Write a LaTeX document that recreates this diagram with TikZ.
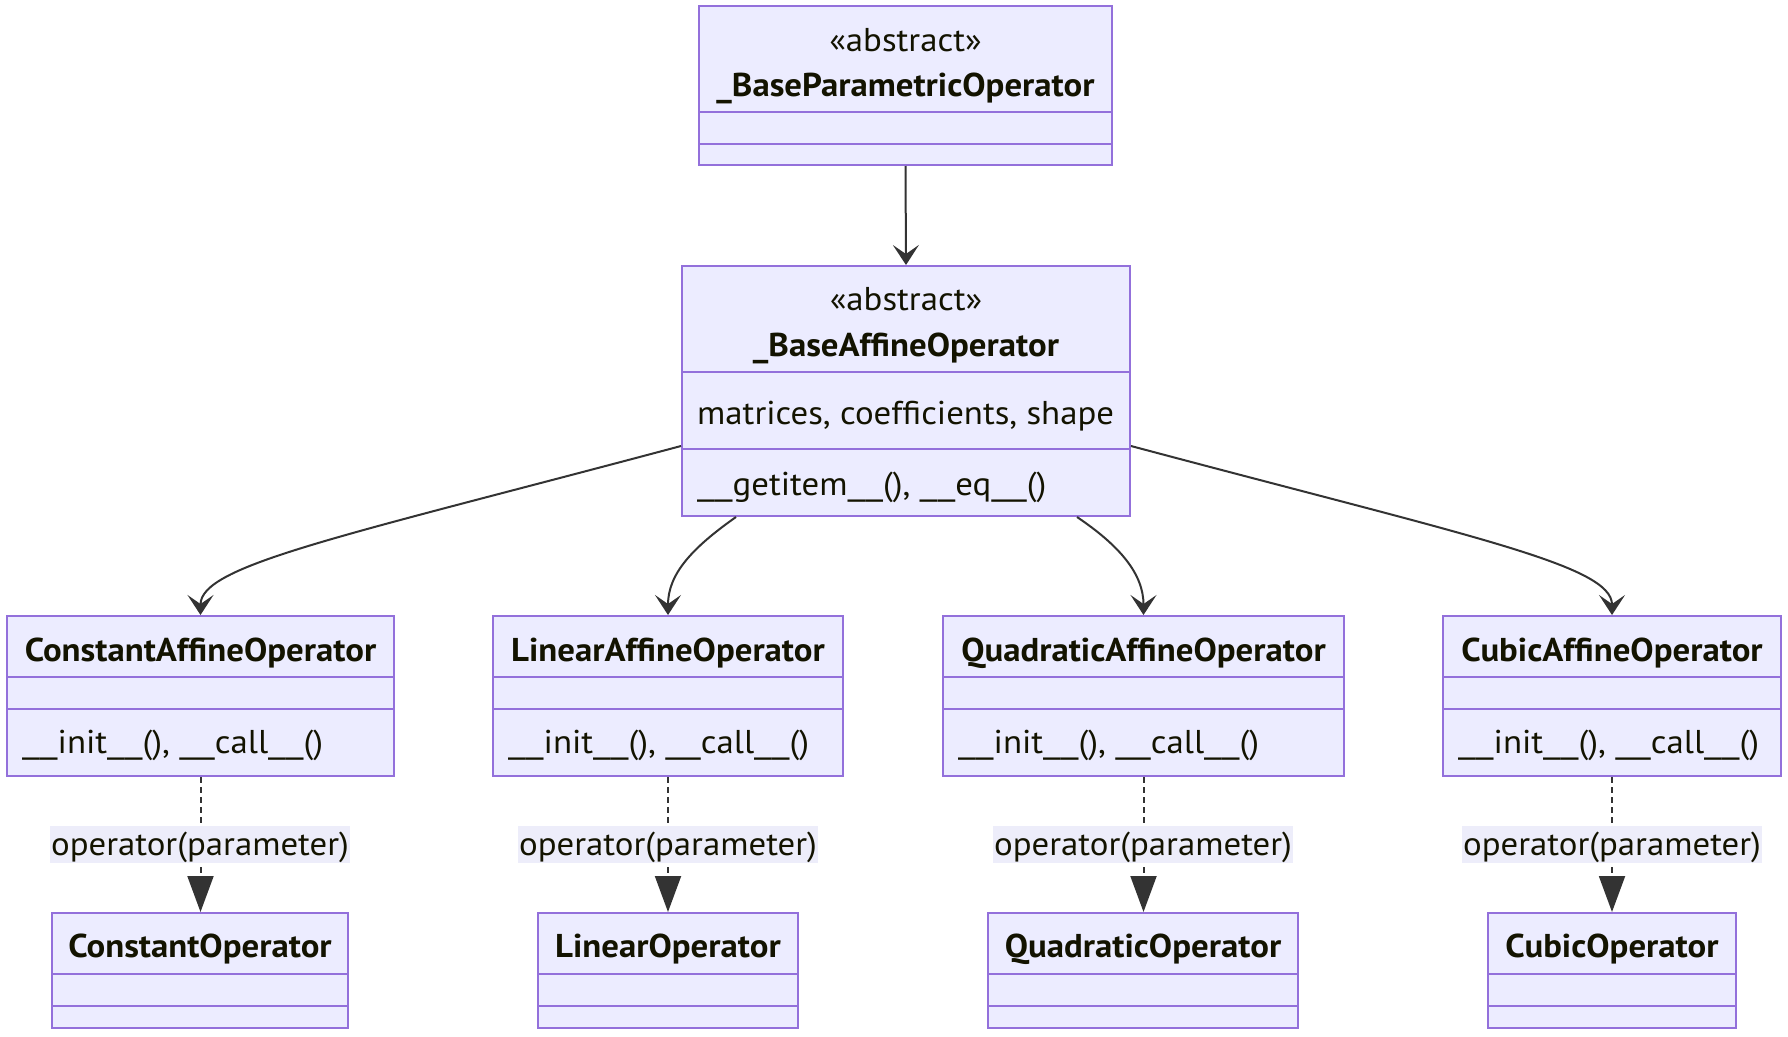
\documentclass[tikz,border=0pt]{standalone}
\usepackage{fontspec}
\setmainfont{PT Sans}[FakeStretch=1.055]
\usetikzlibrary{arrows.meta}
\definecolor{boxfill}{HTML}{ECECFF}
\definecolor{boxdraw}{HTML}{9370DB}
\definecolor{edgecol}{HTML}{333333}
\definecolor{txtcol}{HTML}{131300}
\definecolor{lblfill}{HTML}{EDEDFA}
\newcommand\us{\scalebox{1.25}[1]{\_}}
\tikzset{
  umlbox/.style={draw=boxdraw, fill=boxfill, line width=2pt, inner sep=0pt, rectangle},
  divline/.style={draw=boxdraw, line width=2pt},
  txt/.style={anchor=base, inner sep=0pt, text=txtcol, font=\fontsize{33}{39}\selectfont},
  btxt/.style={txt, font=\fontsize{33}{39}\selectfont\bfseries},
  ltxt/.style={txt, anchor=base west},
  lbl/.style={anchor=base, inner xsep=1pt, inner ysep=0pt, text height=29pt, text depth=8pt, fill=lblfill, text=txtcol, font=\fontsize{33}{39}\selectfont},
  assoc/.style={draw=edgecol, line width=2pt, -{Stealth[length=20pt,width=26pt,inset=9pt]}},
  realize/.style={draw=edgecol, line width=2pt, dash pattern=on 6pt off 4pt, -{Triangle[length=36pt,width=26pt]}}
}
\begin{document}
\begin{tikzpicture}[x=1pt,y=-1pt]
\useasboundingbox (0,0) rectangle (1788,1036);
% ---------- _BaseParametricOperator
\node[umlbox, minimum width=413pt, minimum height=159pt] (P) at (905.5,85.5) {};
\draw[divline] (P.west |- 0,111.5) -- (P.east |- 0,111.5);
\draw[divline] (P.west |- 0,144) -- (P.east |- 0,144);
\node[txt] (Ps) at (905.5,51) {«abstract»};
\node[btxt] (Pn) at (905.5,96.5) {\_BaseParametricOperator};
% ---------- _BaseAffineOperator
\node[umlbox, minimum width=448pt, minimum height=250pt] (A) at (906,391) {};
\draw[divline] (A.west |- 0,372) -- (A.east |- 0,372);
\draw[divline] (A.west |- 0,449) -- (A.east |- 0,449);
\node[txt] (As) at (906,310) {«abstract»};
\node[btxt] (An) at (906,356) {\_BaseAffineOperator};
\node[ltxt] (Aa) at (697,424) {matrices, coefficients, shape};
\node[ltxt] (Am) at (697,495) {\us\us getitem\us\us(), \us\us eq\us\us()};
% ---------- row 3
\foreach \n/\l/\r/\t in {C1/7/394/ConstantAffineOperator, C2/493/843/LinearAffineOperator, C3/943/1344/QuadraticAffineOperator, C4/1443/1781/CubicAffineOperator}{
  \node[umlbox, minimum width=\r pt-\l pt, minimum height=160pt] (\n) at ({(\l+\r)/2},696) {};
  \draw[divline] (\n.west |- 0,677) -- (\n.east |- 0,677);
  \draw[divline] (\n.west |- 0,709) -- (\n.east |- 0,709);
  \node[btxt] (\n t) at ({(\l+\r)/2},661) {\t};
  \node[ltxt] (\n m) at (\l+15,753) {\us\us init\us\us(), \us\us call\us\us()};
}
% ---------- row 4
\foreach \n/\l/\r/\t in {D1/52/348/ConstantOperator, D2/538/798/LinearOperator, D3/988/1298/QuadraticOperator, D4/1488/1736/CubicOperator}{
  \node[umlbox, minimum width=\r pt-\l pt, minimum height=115pt] (\n) at ({(\l+\r)/2},970.5) {};
  \draw[divline] (\n.west |- 0,974) -- (\n.east |- 0,974);
  \draw[divline] (\n.west |- 0,1006) -- (\n.east |- 0,1006);
  \node[btxt] (\n t) at ({(\l+\r)/2},957) {\t};
}
% ---------- associations
\draw[assoc] (P.south) -- (A.north);
\draw[assoc] ([yshift=-55pt]A.west) .. controls (340,537) and (200.5,565) .. (C1.north);
\draw[assoc] ([xshift=-170pt]A.south) .. controls (692,548) and (668,574) .. (C2.north);
\draw[assoc] ([xshift=171pt]A.south) .. controls (1120,546) and (1143.5,574) .. (C3.north);
\draw[assoc] ([yshift=-55pt]A.east) .. controls (1472,537) and (1612,565) .. (C4.north);
% ---------- dashed realizations
\foreach \i in {1,2,3,4}{
  \draw[realize] (C\i.south) -- (C\i.south |- D\i.north);
}
\node[lbl] (L1) at (200,855) {operator(parameter)};
\node[lbl] (L2) at (668,855) {operator(parameter)};
\node[lbl] (L3) at (1143,855) {operator(parameter)};
\node[lbl] (L4) at (1612,855) {operator(parameter)};
\end{tikzpicture}
\end{document}
